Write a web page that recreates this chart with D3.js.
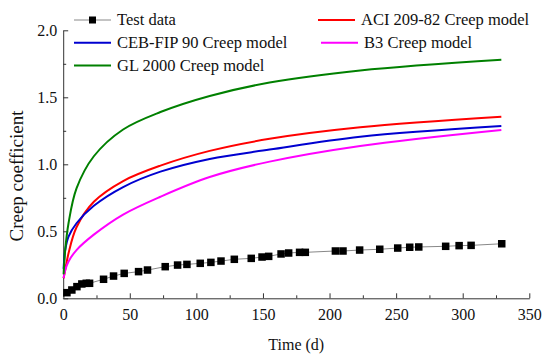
<!DOCTYPE html>
<html>
<head>
<meta charset="utf-8">
<script src="https://cdn.jsdelivr.net/npm/d3@7"></script>
<style>
  body { margin: 0; background: #fff; }
  svg text { font-family: "Liberation Serif", "Times New Roman", serif; fill: #111; }
</style>
</head>
<body>
<div id="chart"></div>
<script>
// test data (time in days, creep coefficient)
var testTime = [2.8, 6.5, 10.3, 14, 17.3, 19.8, 30.3, 37.8, 45.8, 56.6, 63.3, 76.6, 85.9, 92.9, 102.9, 110.9,
                118.5, 128.5, 141.2, 149.3, 154.3, 163.6, 169.3, 177.5, 181.8, 204.4, 210.1,
                222.6, 237.7, 251.2, 260.2, 267, 287.2, 297.3, 306.3, 329.3];
var testValue = [0.042, 0.062, 0.087, 0.107, 0.112, 0.112, 0.142, 0.166, 0.186, 0.199, 0.211, 0.236, 0.248, 0.253, 0.261, 0.268,
                 0.278, 0.291, 0.298, 0.308, 0.313, 0.331, 0.338, 0.343, 0.343, 0.353, 0.353,
                 0.36, 0.366, 0.375, 0.381, 0.383, 0.388, 0.393, 0.395, 0.407];

var modelTime = [0.3, 1.5, 4, 10, 23, 45, 73, 110, 155, 223, 329];
var aciValue  = [0.15, 0.21, 0.336, 0.53, 0.72, 0.875, 0.99, 1.10, 1.19, 1.276, 1.355];
var cebValue  = [0.22, 0.36, 0.46, 0.56, 0.69, 0.83, 0.945, 1.04, 1.11, 1.206, 1.286];
var b3Value   = [0.15, 0.21, 0.275, 0.36, 0.475, 0.625, 0.758, 0.905, 1.02, 1.137, 1.256];
var glValue   = [0.18, 0.36, 0.56, 0.82, 1.06, 1.26, 1.39, 1.51, 1.61, 1.70, 1.78];

var xTicks = [0, 50, 100, 150, 200, 250, 300, 350];
var yTicks = [0, 0.5, 1.0, 1.5, 2.0];

var models = [
  {name: "ACI 209-82 Creep model", values: aciValue, color: "#ff0000"},
  {name: "CEB-FIP 90 Creep model", values: cebValue, color: "#0000d0"},
  {name: "B3 Creep model", values: b3Value, color: "#ff00ff"},
  {name: "GL 2000 Creep model", values: glValue, color: "#008000"}
];

var serif = "Liberation Serif, Times New Roman, serif";
var width = 550, height = 362;
var margin = {top: 30.3, right: 20.7, bottom: 63.7, left: 63.2};

var svg = d3.select("#chart").append("svg")
  .attr("width", width)
  .attr("height", height);

var x = d3.scaleLinear().domain([0, 350]).range([margin.left, width - margin.right]);
var y = d3.scaleLinear().domain([0, 2]).range([height - margin.bottom, margin.top]);

// minor ticks first
svg.append("g")
  .attr("transform", "translate(0," + y(0) + ")")
  .call(d3.axisBottom(x).tickValues([25, 75, 125, 175, 225, 275, 325]).tickSize(-3).tickFormat(""))
  .call(function(g) { g.select(".domain").remove(); });
svg.append("g")
  .attr("transform", "translate(" + x(0) + ",0)")
  .call(d3.axisLeft(y).tickValues([0.25, 0.75, 1.25, 1.75]).tickSize(-3).tickFormat(""))
  .call(function(g) { g.select(".domain").remove(); });

var xAxis = svg.append("g")
  .attr("transform", "translate(0," + y(0) + ")")
  .call(d3.axisBottom(x).tickValues(xTicks).tickSize(-5).tickSizeOuter(0).tickPadding(10).tickFormat(d3.format("d")))
  .attr("font-family", serif)
  .attr("font-size", 16);

var yAxis = svg.append("g")
  .attr("transform", "translate(" + x(0) + ",0)")
  .call(d3.axisLeft(y).tickValues(yTicks).tickSize(-5).tickSizeOuter(0).tickPadding(6).tickFormat(d3.format(".1f")))
  .attr("font-family", serif)
  .attr("font-size", 16);

svg.selectAll(".domain, .tick line").attr("stroke", "#333");

// model lines
var line = d3.line().curve(d3.curveCatmullRom.alpha(0.5));
models.forEach(function(m) {
  svg.append("path")
    .datum(modelTime.map(function(t, i) { return [x(t), y(m.values[i])]; }))
    .attr("d", line)
    .attr("fill", "none")
    .attr("stroke", m.color)
    .attr("stroke-width", 2);
});

// test data
var testPts = testTime.map(function(t, i) { return [x(t), y(testValue[i])]; });
svg.append("path")
  .datum([[x(0), y(0)]].concat(testPts))
  .attr("d", d3.line())
  .attr("fill", "none")
  .attr("stroke", "#888")
  .attr("stroke-width", 1);
svg.selectAll(".sq")
  .data(testPts)
  .enter().append("rect")
    .attr("x", function(d) { return d[0] - 3.75; })
    .attr("y", function(d) { return d[1] - 3.75; })
    .attr("width", 7.5)
    .attr("height", 7.5)
    .attr("fill", "#000");

// legend
var legend = [
  {name: "Test data", color: "#888", x: 74, y: 20, marker: true},
  {name: models[1].name, color: models[1].color, x: 74, y: 42.7},
  {name: models[3].name, color: models[3].color, x: 74, y: 65.5},
  {name: models[0].name, color: models[0].color, x: 318, y: 20},
  {name: models[2].name, color: models[2].color, x: 321, y: 42.7}
];
var lg = svg.append("g").selectAll("g").data(legend).enter().append("g")
  .attr("transform", function(d) { return "translate(" + d.x + "," + d.y + ")"; });
lg.append("line")
  .attr("x1", 0).attr("x2", 37)
  .attr("stroke", function(d) { return d.color; })
  .attr("stroke-width", function(d) { return d.marker ? 1 : 2; });
lg.filter(function(d) { return d.marker; }).append("rect")
  .attr("x", 15).attr("y", -3.5).attr("width", 7).attr("height", 7).attr("fill", "#000");
lg.append("text")
  .attr("x", 43)
  .attr("dy", "0.33em")
  .style("font-size", "16.5px")
  .text(function(d) { return d.name; });

// axis titles
svg.append("text")
  .attr("x", (x(0) + x(350)) / 2)
  .attr("y", 350)
  .attr("text-anchor", "middle")
  .style("font-size", "16px")
  .text("Time (d)");

svg.append("text")
  .attr("transform", "translate(23," + 176 + ") rotate(-90)")
  .attr("text-anchor", "middle")
  .style("font-size", "19px")
  .text("Creep coefficient");
</script>
</body>
</html>
